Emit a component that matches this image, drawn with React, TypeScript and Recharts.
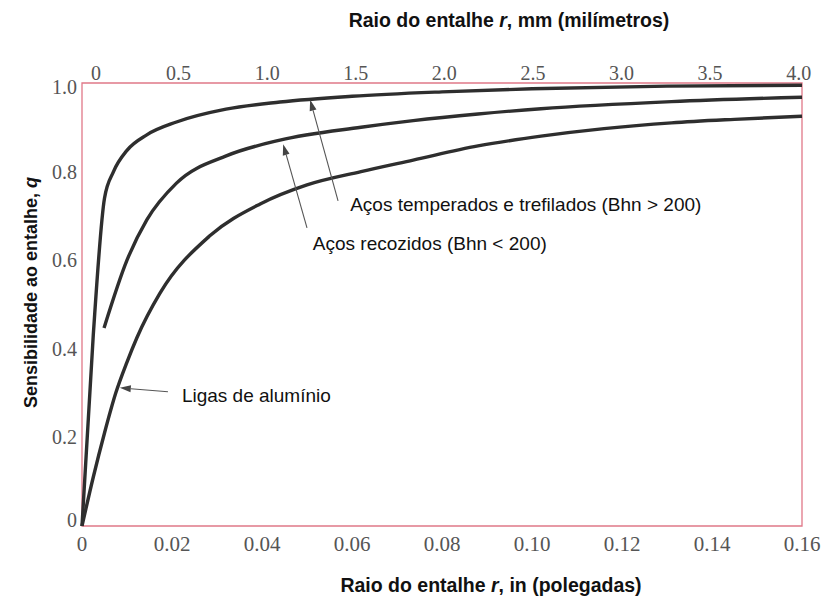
import { LineChart, Line, XAxis, YAxis, ReferenceArea, ReferenceLine, ReferenceDot } from 'recharts';

// raio do entalhe r (in) e sensibilidade q
const temperadosR = [0, 0.0025, 0.005, 0.007, 0.01, 0.0144, 0.021, 0.032, 0.044, 0.06, 0.08, 0.1, 0.13, 0.16];
const temperadosQ = [0, 0.43, 0.74, 0.8, 0.848, 0.883, 0.912, 0.941, 0.957, 0.97, 0.98, 0.987, 0.993, 0.995];

const recozidosR = [0.0049, 0.01, 0.0144, 0.021, 0.0322, 0.044, 0.062, 0.0736, 0.088, 0.102, 0.131, 0.16];
const recozidosQ = [0.447, 0.6, 0.691, 0.774, 0.836, 0.871, 0.9, 0.915, 0.93, 0.942, 0.958, 0.968];

const aluminioR = [0, 0.0025, 0.005, 0.0075, 0.01, 0.0122, 0.0173, 0.0284, 0.0396, 0.05, 0.062, 0.0736, 0.088, 0.102, 0.116, 0.131, 0.145, 0.16];
const aluminioQ = [0, 0.11, 0.21, 0.3, 0.37, 0.425, 0.525, 0.655, 0.727, 0.77, 0.8, 0.826, 0.858, 0.88, 0.897, 0.91, 0.918, 0.925];

const inTicks = [0, 0.02, 0.04, 0.06, 0.08, 0.1, 0.12, 0.14, 0.16];
const inTickLabels = ['0', '0.02', '0.04', '0.06', '0.08', '0.10', '0.12', '0.14', '0.16'];
const mmTicks = [0, 0.5, 1, 1.5, 2, 2.5, 3, 3.5, 4];
const mmTickLabels = ['0', '0.5', '1.0', '1.5', '2.0', '2.5', '3.0', '3.5', '4.0'];
const qTicks = [0, 0.2, 0.4, 0.6, 0.8, 1];
const qTickLabels = ['0', '0.2', '0.4', '0.6', '0.8', '1.0'];

// anotações: texto, início do texto, base e ponta da seta (r, q)
const notaTextos = ['Aços temperados e trefilados (Bhn > 200)', 'Aços recozidos (Bhn < 200)', 'Ligas de alumínio'];
const notaTextoR = [0.0596, 0.0513, 0.0222];
const notaTextoQ = [0.726, 0.639, 0.296];
const setaBaseR = [0.0569, 0.05, 0.0191];
const setaBaseQ = [0.734, 0.673, 0.303];
const setaPontaR = [0.0507, 0.0447, 0.0084];
const setaPontaQ = [0.962, 0.862, 0.312];

const toRows = (rs: number[], qs: number[]) => rs.map((r, i) => ({ r, q: qs[i] }));
const temperados = toRows(temperadosR, temperadosQ);
const recozidos = toRows(recozidosR, recozidosQ);
const aluminio = toRows(aluminioR, aluminioQ);
// escala superior em mm
const mmRows = mmTicks.map((mm) => ({ mm }));

const serif = 'Liberation Serif';
const sans = 'Liberation Sans';
const tickColor = '#555';
const curveColor = '#2e2e2e';
const frameColor = '#e07888';

const InTick = (props: any) => {
  const { x, y, payload } = props;
  return (
    <text x={x} y={y + 18} textAnchor="middle" dominantBaseline="central" fontFamily={serif} fontSize={21} fill={tickColor}>
      {inTickLabels[inTicks.indexOf(payload.value)]}
    </text>
  );
};

const MmTick = (props: any) => {
  const { x, y, payload } = props;
  const dx = payload.value === 0 ? 14 : 8;
  return (
    <text x={x + dx} y={y - 10} textAnchor="middle" dominantBaseline="central" fontFamily={serif} fontSize={20} fill={tickColor}>
      {mmTickLabels[mmTicks.indexOf(payload.value)]}
    </text>
  );
};

const QTick = (props: any) => {
  const { x, y, payload } = props;
  const dy = payload.value === 0 ? -6 : payload.value === 1 ? 4 : 0;
  return (
    <text x={x - 5} y={y + dy} textAnchor="end" dominantBaseline="central" fontFamily={serif} fontSize={20} fill={tickColor}>
      {qTickLabels[qTicks.indexOf(payload.value)]}
    </text>
  );
};

const BottomTitle = ({ viewBox }: any) => (
  <text x={viewBox.x + viewBox.width / 2 + 49} y={viewBox.y + 66} textAnchor="middle" fontFamily={sans} fontWeight="bold" fontSize={19.5} fill="#111">
    Raio do entalhe <tspan fontStyle="italic">r</tspan>, in (polegadas)
  </text>
);

const TopTitle = ({ viewBox }: any) => (
  <text x={viewBox.x + viewBox.width / 2 + 67} y={27} textAnchor="middle" fontFamily={sans} fontWeight="bold" fontSize={19.5} fill="#111">
    Raio do entalhe <tspan fontStyle="italic">r</tspan>, mm (milímetros)
  </text>
);

const SideTitle = ({ viewBox }: any) => {
  const cx = 37;
  const cy = viewBox.y + viewBox.height / 2 - 12;
  return (
    <text x={cx} y={cy} transform={`rotate(-90 ${cx} ${cy})`} textAnchor="middle" fontFamily={sans} fontWeight="bold" fontSize={18} fill="#111">
      Sensibilidade ao entalhe, <tspan fontStyle="italic">q</tspan>
    </text>
  );
};

const Seta = (props: any) => {
  const { x1, y1, x2, y2 } = props;
  const ang = Math.atan2(y2 - y1, x2 - x1);
  const len = 11;
  const half = 3.5;
  const bx = x2 - len * Math.cos(ang);
  const by = y2 - len * Math.sin(ang);
  const px = -Math.sin(ang) * half;
  const py = Math.cos(ang) * half;
  return (
    <g>
      <line x1={x1} y1={y1} x2={bx} y2={by} stroke="#555" strokeWidth={1.1} />
      <polygon points={`${x2},${y2} ${bx + px},${by + py} ${bx - px},${by - py}`} fill="#444" />
    </g>
  );
};

export default function App() {
  return (
    <div style={{ position: 'absolute', left: 0, top: 0, width: 836, height: 598, background: '#fff' }}>
      <LineChart width={836} height={598} data={mmRows} margin={{ top: 0, right: 34, bottom: 0, left: 0 }}>
        <XAxis
          xAxisId="in"
          dataKey="r"
          type="number"
          domain={[0, 0.16]}
          ticks={inTicks}
          interval={0}
          height={72}
          axisLine={false}
          tickLine={false}
          tickSize={0}
          tickMargin={0}
          tick={<InTick />}
          label={<BottomTitle />}
        />
        <XAxis
          xAxisId="mm"
          dataKey="mm"
          orientation="top"
          type="number"
          domain={[0, 0.16 * 25.4]}
          allowDataOverflow
          ticks={mmTicks}
          interval={0}
          height={83}
          axisLine={false}
          tickLine={false}
          tickSize={0}
          tickMargin={0}
          tick={<MmTick />}
          label={<TopTitle />}
        />
        <YAxis
          yAxisId="q"
          type="number"
          domain={[0, 1]}
          ticks={qTicks}
          interval={0}
          width={82}
          axisLine={false}
          tickLine={false}
          tickSize={0}
          tickMargin={0}
          tick={<QTick />}
          label={<SideTitle />}
        />
        <ReferenceArea xAxisId="in" yAxisId="q" x1={0} x2={0.16} y1={0} y2={1} fill="none" stroke={frameColor} strokeWidth={1.3} />
        <Line xAxisId="in" yAxisId="q" data={temperados} dataKey="q" type="monotone" stroke={curveColor} strokeWidth={3.4} dot={false} isAnimationActive={false} />
        <Line xAxisId="in" yAxisId="q" data={recozidos} dataKey="q" type="monotone" stroke={curveColor} strokeWidth={3.4} dot={false} isAnimationActive={false} />
        <Line xAxisId="in" yAxisId="q" data={aluminio} dataKey="q" type="monotone" stroke={curveColor} strokeWidth={3.4} dot={false} isAnimationActive={false} />
        {notaTextos.map((t, i) => (
          <ReferenceLine
            key={'seta' + i}
            xAxisId="in"
            yAxisId="q"
            segment={[
              { x: setaBaseR[i], y: setaBaseQ[i] },
              { x: setaPontaR[i], y: setaPontaQ[i] },
            ]}
            shape={<Seta />}
          />
        ))}
        {notaTextos.map((t, i) => (
          <ReferenceDot
            key={'nota' + i}
            xAxisId="in"
            yAxisId="q"
            x={notaTextoR[i]}
            y={notaTextoQ[i]}
            r={0}
            fill="none"
            stroke="none"
            label={{ value: t, position: 'right', offset: 0, fill: '#111', fontSize: 19, fontFamily: sans }}
          />
        ))}
      </LineChart>
    </div>
  );
}
